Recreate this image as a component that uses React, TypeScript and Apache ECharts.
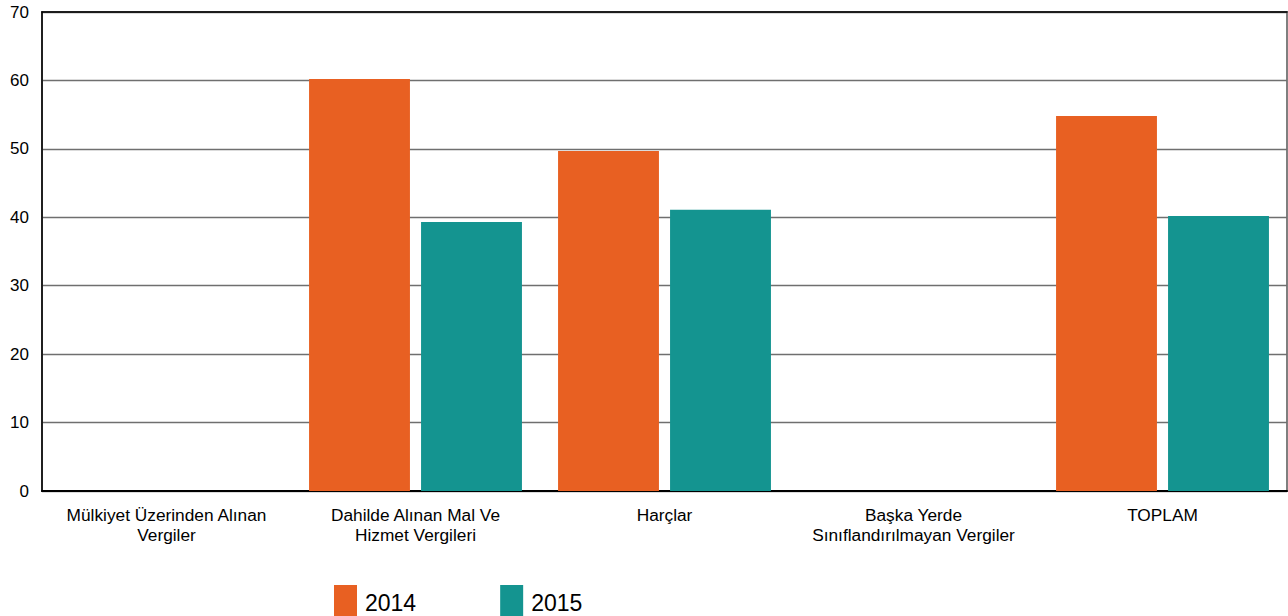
import React, { useEffect, useRef } from "react";
import * as echarts from "echarts";

const categories = [
  "Mülkiyet Üzerinden Alınan\nVergiler",
  "Dahilde Alınan Mal Ve\nHizmet Vergileri",
  "Harçlar",
  "Başka Yerde\nSınıflandırılmayan Vergiler",
  "TOPLAM",
];
const seriesNames = ["2014", "2015"];
const values2014 = [0, 60.2, 49.7, 0, 54.8];
const values2015 = [0, 39.3, 41.1, 0, 40.2];
const colors = ["#E86022", "#149490"];

export default function App() {
  const ref = useRef<HTMLDivElement>(null);
  useEffect(() => {
    document.body.style.margin = "0";
    if (!ref.current) return;
    const chart = echarts.init(ref.current, undefined, { renderer: "svg" });
    const font = "'Liberation Sans', Arial, sans-serif";
    chart.setOption({
      animation: false,
      grid: {
        left: 42,
        right: 1,
        top: 12,
        bottom: 125,
        show: true,
        borderColor: "#7f7f7f",
        borderWidth: 2,
      },
      legend: {
        left: 334,
        top: 585,
        padding: 0,
        itemWidth: 23,
        itemHeight: 36,
        itemGap: 84,
        icon: "rect",
        data: seriesNames,
        textStyle: { fontSize: 23, color: "#000", fontFamily: font, padding: [0, 0, 0, 3] },
      },
      xAxis: [
        {
          type: "category",
          data: categories,
          axisLine: { show: true, lineStyle: { color: "#000", width: 2 } },
          axisTick: { show: false },
          axisLabel: {
            fontSize: 17.3,
            color: "#000",
            fontFamily: font,
            margin: 14,
            lineHeight: 20,
            interval: 0,
          },
        },
        {
          type: "category",
          position: "top",
          data: categories,
          axisLine: { show: true, lineStyle: { color: "#000", width: 1.5 } },
          axisTick: { show: false },
          axisLabel: { show: false },
        },
      ],
      yAxis: {
        type: "value",
        min: 0,
        max: 70,
        interval: 10,
        axisLine: { show: true, lineStyle: { color: "#000", width: 1.5 } },
        axisTick: { show: false },
        splitLine: { show: true, lineStyle: { color: "#6f6f6f", width: 1.3 } },
        axisLabel: { fontSize: 17, color: "#000", fontFamily: font, margin: 13 },
      },
      series: [
        {
          name: seriesNames[0],
          type: "bar",
          data: values2014,
          itemStyle: { color: colors[0] },
          barGap: "11%",
          barCategoryGap: "14.5%",
        },
        {
          name: seriesNames[1],
          type: "bar",
          data: values2015,
          itemStyle: { color: colors[1] },
          barGap: "11%",
          barCategoryGap: "14.5%",
        },
      ],
    });
    return () => chart.dispose();
  }, []);
  return <div ref={ref} style={{ width: 1288, height: 616 }} />;
}
